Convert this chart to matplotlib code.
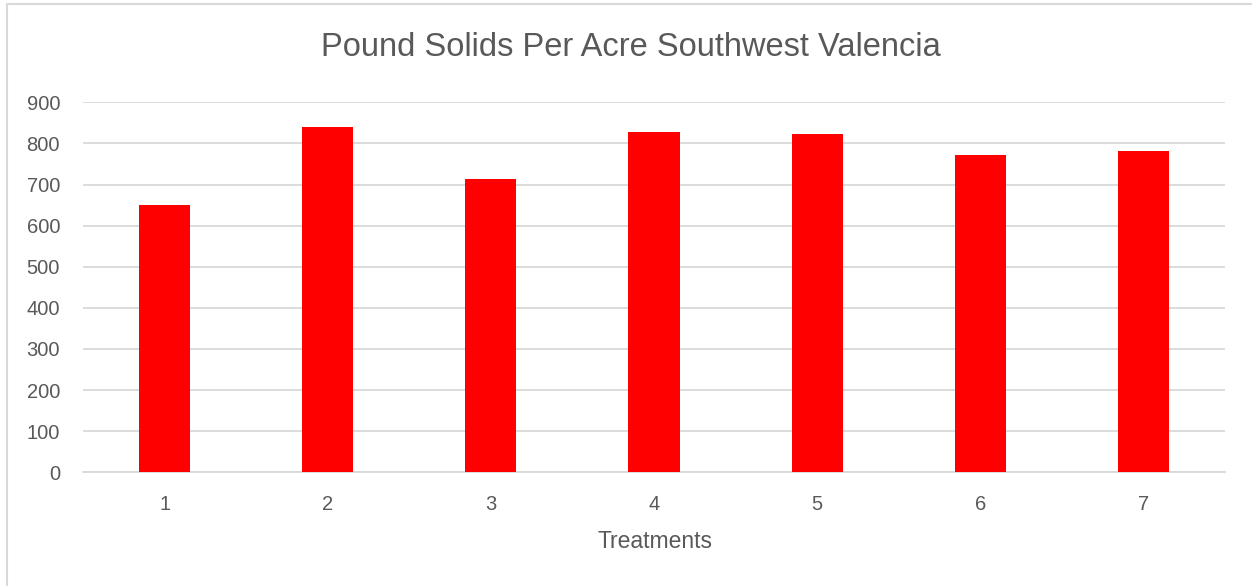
import numpy as np
import matplotlib.pyplot as plt
from matplotlib.patches import Rectangle

treatments = ['1', '2', '3', '4', '5', '6', '7']
solids = [651, 840, 714, 828, 824, 773, 782]
yticks = [0, 100, 200, 300, 400, 500, 600, 700, 800, 900]

text_color = '#595959'
grid_color = '#d9d9d9'
fam = ['Liberation Sans', 'DejaVu Sans']

fig = plt.figure(figsize=(12.52, 5.86), dpi=100)
ax = fig.add_axes([83 / 1252, 1 - 472.3 / 586, (1225 - 83) / 1252, (472.3 - 102.3) / 586])

x = np.arange(len(treatments))
ax.bar(x, solids, 0.313, color='#ff0000', zorder=3)

ax.set_xlim(-0.5, len(treatments) - 0.5)
ax.set_ylim(0, 900)
ax.set_yticks(yticks)
ax.set_xticks(x)
ax.set_xticklabels(treatments)
ax.grid(axis='y', color=grid_color, linewidth=1.3, zorder=0)
for side in ['top', 'right', 'left']:
    ax.spines[side].set_visible(False)
ax.spines['bottom'].set_color(grid_color)
ax.spines['bottom'].set_linewidth(1.3)
ax.tick_params(axis='both', length=0, labelsize=14.5, labelcolor=text_color, pad=16.5)
for lbl in ax.get_xticklabels() + ax.get_yticklabels():
    lbl.set_family(fam)

fig.text(0.5035, 1 - 48 / 586, 'Pound Solids Per Acre Southwest Valencia', ha='center', va='center',
         fontsize=23.5, color=text_color, family=fam)
fig.text((83 + 1225) / 2 / 1252 + 0.001, 1 - 542 / 586, 'Treatments', ha='center', va='center',
         fontsize=16.5, color=text_color, family=fam)

# chart border
fig.patches.append(Rectangle((7 / 1252, -0.05), 1.1, 1 - 3.5 / 586 + 0.05, transform=fig.transFigure,
                             fill=False, edgecolor=grid_color, linewidth=1.5))

fig.savefig('out.png', dpi=100)
